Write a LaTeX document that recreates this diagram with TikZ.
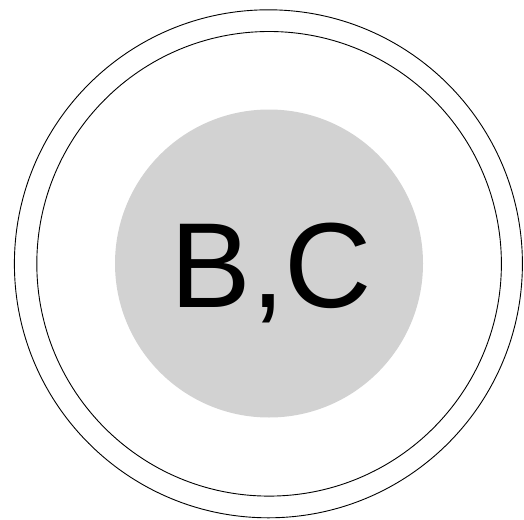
\documentclass[tikz,border=0pt]{standalone}
\usepackage{fontspec}
\setmainfont{Liberation Sans}

\begin{document}
\begin{tikzpicture}[x=1pt, y=-1pt]
  \useasboundingbox (0,0) rectangle (524,519);
  % outer double ring
  \draw[line width=0.9pt] (268.4,263.8) circle (254);
  \draw[line width=0.9pt] (269.1,263.8) circle (232.3);
  % grey disc with label
  \fill[gray!35] (269,263.5) circle (154);
  \node[anchor=base, inner sep=0pt] (bc) at (271.5,307)
    {\fontsize{121}{121}\selectfont B,C};
\end{tikzpicture}
\end{document}
